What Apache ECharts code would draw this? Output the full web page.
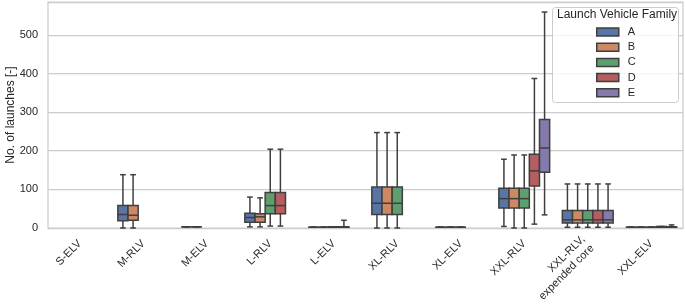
<!DOCTYPE html>
<html>
<head>
<meta charset="utf-8">
<script src="https://cdn.jsdelivr.net/npm/echarts@6/dist/echarts.min.js"></script>
<style>
html,body{margin:0;padding:0;background:#fff;}
#chart{width:685px;height:304px;}
</style>
</head>
<body>
<div id="chart"></div>
<script>
var categories = ['S-ELV','M-RLV','M-ELV','L-RLV','L-ELV','XL-RLV','XL-ELV','XXL-RLV','XXL-RLV,\nexpended core','XXL-ELV'];
var families = ['A','B','C','D','E'];
var yTicks = [0,100,200,300,400,500];
// each entry: [min, q1, median, q3, max] per category (null = no data)
var familyA = [null,[0,19,35,58,138],[3,3,3,3,3],[3,15,27,38,80],[2,2,2,2,2],[0,35,64,106,247],[2,2,2,2,2],[4,52,76,103,178],[2,13,21,45,114],[2,2,2,2,2]];
var familyB = [null,[0,20,33,58,138],[3,3,3,3,3],[3,15,29,37,78],[2,2,2,2,2],[0,35,64,106,247],[2,2,2,2,2],[0,52,76,103,189],[2,13,21,45,114],[2,2,2,2,2]];
var familyC = [null,null,null,[5,37,58,92,204],[2,2,3,3,3],[0,35,64,106,247],[2,2,2,2,2],[0,52,76,103,189],[2,13,21,45,114],[2,2,2,2,2]];
var familyD = [null,null,null,[5,37,58,92,204],[2,2,3,3,20],null,null,[10,109,148,191,387],[2,13,21,45,114],[2,2,3,4,4]];
var familyE = [null,null,null,null,null,null,null,[34,144,207,281,559],[2,13,21,45,114],[2,2,3,3,8]];
var familyData = [familyA, familyB, familyC, familyD, familyE];
var colors = ['#5975a4','#cc8963','#5f9e6e','#b55d60','#857aab'];
var lineColor = '#3f3f3f';

function makeRender(slot, color) {
  return function (params, api) {
    var ci = api.value(0);
    var band = api.size([1, 0])[0];
    var w = band * 0.8 / families.length;
    var cx = api.coord([ci, 0])[0] + (slot - (families.length - 1) / 2) * w;
    var yMin = api.coord([ci, api.value(1)])[1];
    var yQ1 = api.coord([ci, api.value(2)])[1];
    var yMed = api.coord([ci, api.value(3)])[1];
    var yQ3 = api.coord([ci, api.value(4)])[1];
    var yMax = api.coord([ci, api.value(5)])[1];
    var half = w / 2;
    var cap = w * 0.28;
    var ls = {stroke: lineColor, lineWidth: 1.5};
    return {
      type: 'group',
      children: [
        {type: 'line', shape: {x1: cx, y1: yMin, x2: cx, y2: yQ1}, style: ls},
        {type: 'line', shape: {x1: cx, y1: yQ3, x2: cx, y2: yMax}, style: ls},
        {type: 'line', shape: {x1: cx - cap, y1: yMin, x2: cx + cap, y2: yMin}, style: ls},
        {type: 'line', shape: {x1: cx - cap, y1: yMax, x2: cx + cap, y2: yMax}, style: ls},
        {type: 'rect', shape: {x: cx - half, y: yQ3, width: w, height: yQ1 - yQ3}, style: {fill: color, stroke: lineColor, lineWidth: 1.5}},
        {type: 'line', shape: {x1: cx - half, y1: yMed, x2: cx + half, y2: yMed}, style: ls}
      ]
    };
  };
}

var series = families.map(function (name, i) {
  var data = [];
  familyData[i].forEach(function (v, ci) {
    if (v) data.push([ci].concat(v));
  });
  return {
    name: name,
    type: 'custom',
    renderItem: makeRender(i, colors[i]),
    itemStyle: {color: colors[i], borderColor: lineColor, borderWidth: 1.5},
    encode: {x: 0, y: [1, 2, 3, 4, 5]},
    data: data,
    z: 3
  };
});

var categoryItems = categories.map(function (c) {
  if (c.indexOf('\n') >= 0) {
    return {value: c, textStyle: {padding: [13, 0, 0, 0]}};
  }
  return c;
});

var chart = echarts.init(document.getElementById('chart'), null, {renderer: 'canvas'});
chart.setOption({
  animation: false,
  backgroundColor: '#ffffff',
  textStyle: {fontFamily: 'Liberation Sans'},
  grid: {left: 48, right: 2, top: 2, bottom: 76, show: true, borderColor: '#cccccc', borderWidth: 1.25, outerBoundsMode: 'none', containLabel: false},
  xAxis: {
    type: 'category',
    data: categoryItems,
    axisLine: {show: false},
    axisTick: {show: false},
    splitLine: {show: false},
    axisLabel: {rotate: 45, fontSize: 11, color: '#262626', margin: 14, interval: 0, fontFamily: 'Liberation Sans', lineHeight: 13}
  },
  yAxis: {
    type: 'value',
    min: 0,
    max: 585,
    interval: 100,
    name: 'No. of launches [-]',
    nameLocation: 'middle',
    nameGap: 31,
    nameMoveOverlap: false,
    nameTextStyle: {fontSize: 12, color: '#262626', fontFamily: 'Liberation Sans'},
    axisLine: {show: false},
    axisTick: {show: false},
    splitLine: {lineStyle: {color: '#cccccc', width: 1.25}},
    axisLabel: {
      fontSize: 11, color: '#262626', margin: 10,
      formatter: function (v) { return yTicks.indexOf(v) >= 0 ? String(v) : ''; }
    }
  },
  legend: {
    orient: 'vertical',
    left: 591,
    top: 20,
    z: 20,
    icon: 'rect',
    itemWidth: 22,
    itemHeight: 8,
    itemGap: 1.2,
    textStyle: {fontSize: 11, color: '#262626', lineHeight: 14, padding: [0, 0, 0, 4], fontFamily: 'Liberation Sans'},
    data: families.map(function (n, i) {
      return {name: n, itemStyle: {color: colors[i], borderColor: lineColor, borderWidth: 1.5}};
    })
  },
  graphic: [
    {type: 'rect', left: 552, top: 7, z: 10, silent: true,
      shape: {width: 126, height: 95, r: 3},
      style: {fill: 'rgba(255,255,255,0.8)', stroke: '#cccccc', lineWidth: 1}},
    {type: 'text', left: 557, top: 9, z: 11, silent: true,
      style: {text: 'Launch Vehicle Family', fontSize: 12, fill: '#262626', fontFamily: 'Liberation Sans'}}
  ],
  series: series
});
</script>
</body>
</html>
